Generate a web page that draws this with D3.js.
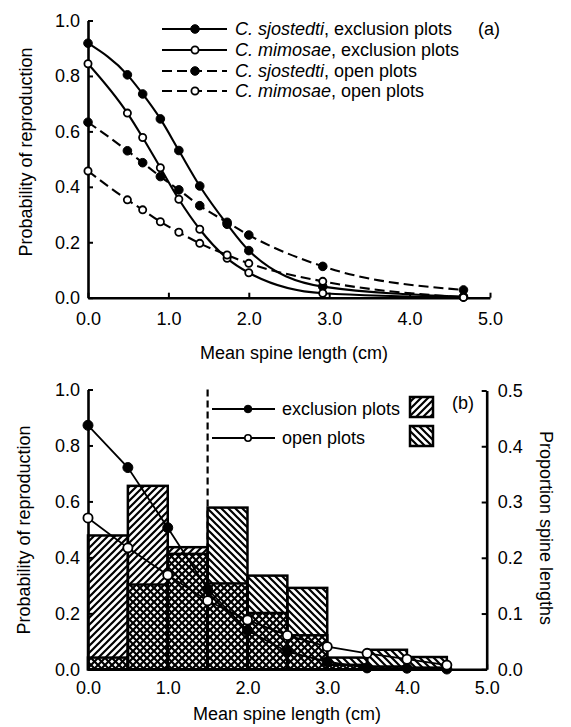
<!DOCTYPE html>
<html>
<head>
<meta charset="utf-8">
<script src="https://cdn.jsdelivr.net/npm/d3@7"></script>
<style>
  body { margin: 0; background: #fff; }
  svg { font-family: "Liberation Sans", Arial, Helvetica, sans-serif; }
  text { fill: #000; }
</style>
</head>
<body>
<svg id="chart" width="571" height="727"></svg>
<script>
// ---------- Panel (a) data ----------
const xA = [0, 0.49, 0.68, 0.90, 1.13, 1.39, 1.73, 2.00, 2.92, 4.67];
const sjostedtiExcl = [0.918, 0.804, 0.735, 0.645, 0.531, 0.403, 0.265, 0.170, 0.040, 0.004];
const mimosaeExcl   = [0.844, 0.666, 0.578, 0.469, 0.355, 0.247, 0.142, 0.090, 0.016, 0.001];
const sjostedtiOpen = [0.633, 0.530, 0.487, 0.437, 0.389, 0.332, 0.272, 0.226, 0.113, 0.028];
const mimosaeOpen   = [0.457, 0.353, 0.317, 0.274, 0.236, 0.196, 0.154, 0.124, 0.059, 0.001];
const seriesA = [
  { sp: "C. sjostedti", rest: ", exclusion plots", vals: sjostedtiExcl, dashed: false, filled: true },
  { sp: "C. mimosae",   rest: ", exclusion plots", vals: mimosaeExcl,   dashed: false, filled: false },
  { sp: "C. sjostedti", rest: ", open plots",      vals: sjostedtiOpen, dashed: true,  filled: true },
  { sp: "C. mimosae",   rest: ", open plots",      vals: mimosaeOpen,   dashed: true,  filled: false }
];

// ---------- Panel (b) data ----------
const binStarts = [0, 0.5, 1.0, 1.5, 2.0, 2.5, 3.0, 3.5, 4.0];
const binWidth = 0.5;
const exclProp = [0.240, 0.329, 0.219, 0.154, 0.101, 0.061, 0.008, 0.005, 0.003];
const openProp = [0.021, 0.152, 0.207, 0.290, 0.168, 0.146, 0.021, 0.035, 0.022];
const xB = [0, 0.5, 1.0, 1.5, 2.0, 2.5, 3.0, 3.5, 4.0, 4.5];
const exclProb = [0.872, 0.721, 0.506, 0.286, 0.139, 0.063, 0.027, 0.005, 0.004, 0.001];
const openProb = [0.541, 0.434, 0.337, 0.245, 0.176, 0.121, 0.081, 0.057, 0.036, 0.015];
const threshold = 1.5;

const ticksX = [0, 1, 2, 3, 4, 5];
const ticksP = [0, 0.2, 0.4, 0.6, 0.8, 1.0];
const ticksR = [0, 0.1, 0.2, 0.3, 0.4, 0.5];

const svg = d3.select("#chart");
const fmt = d3.format(".1f");
const FS = 18;

// hatch patterns
const defs = svg.append("defs");
function hatch(id, dir) {
  const s = 7;
  const p = defs.append("pattern").attr("id", id).attr("patternUnits", "userSpaceOnUse")
    .attr("width", s).attr("height", s);
  const d = dir > 0
    ? `M${-1},${1} l2,-2 M0,${s} l${s},${-s} M${s-1},${s+1} l2,-2`
    : `M${-1},${s-1} l2,2 M0,0 l${s},${s} M${s-1},${-1} l2,2`;
  p.append("path").attr("d", d).attr("stroke", "#000").attr("stroke-width", 2.2).attr("fill", "none");
}
hatch("hatchF", 1);   // "/"
hatch("hatchB", -1);  // "\"

function styleAxis(g) {
  g.selectAll(".domain").attr("stroke", "#000").attr("stroke-width", 2.6);
  g.selectAll(".tick line").attr("stroke", "#000").attr("stroke-width", 2);
  g.selectAll("text").attr("font-size", FS).attr("font-family", "Liberation Sans, Arial, sans-serif").attr("fill", "#000");
}

// ================= Panel (a) =================
const xa = d3.scaleLinear().domain([0, 5]).range([88, 490]);
const ya = d3.scaleLinear().domain([0, 1]).range([297.7, 20.5]);

const gA = svg.append("g");
gA.append("g").attr("transform", `translate(0,${ya(0)})`)
  .call(d3.axisBottom(xa).tickValues(ticksX).tickFormat(fmt).tickSizeInner(-5).tickSizeOuter(0).tickPadding(15))
  .call(styleAxis);
gA.append("g").attr("transform", `translate(${xa(0)},0)`)
  .call(d3.axisLeft(ya).tickValues(ticksP).tickFormat(fmt).tickSizeInner(-5).tickSizeOuter(0).tickPadding(8))
  .call(styleAxis);

const lineA = d3.line().x((d, i) => xa(xA[i])).y(d => ya(d)).curve(d3.curveMonotoneX);
seriesA.forEach(s => {
  gA.append("path").attr("d", lineA(s.vals)).attr("fill", "none").attr("stroke", "#000")
    .attr("stroke-width", 2.1).attr("stroke-dasharray", s.dashed ? "10,5" : null);
});
seriesA.forEach(s => {
  gA.selectAll(null).data(s.vals).enter().append("circle")
    .attr("cx", (d, i) => xa(xA[i])).attr("cy", d => ya(d))
    .attr("r", s.filled ? 4.3 : 3.6)
    .attr("fill", s.filled ? "#000" : "#fff").attr("stroke", "#000").attr("stroke-width", s.filled ? 1 : 1.8);
});

// legend (a)
const legA = gA.append("g");
const legRowsA = [29, 50, 71, 91];
seriesA.forEach((s, i) => {
  const y = legRowsA[i];
  legA.append("line").attr("x1", 162).attr("x2", 227).attr("y1", y).attr("y2", y)
    .attr("stroke", "#000").attr("stroke-width", 2.1).attr("stroke-dasharray", s.dashed ? "10,5" : null);
  legA.append("circle").attr("cx", 195).attr("cy", y).attr("r", s.filled ? 4.3 : 3.6)
    .attr("fill", s.filled ? "#000" : "#fff").attr("stroke", "#000").attr("stroke-width", s.filled ? 1 : 1.8);
  const t = legA.append("text").attr("x", 235).attr("y", y).attr("dy", "0.35em").attr("font-size", FS);
  t.append("tspan").attr("font-style", "italic").text(s.sp);
  t.append("tspan").text(s.rest);
});
gA.append("text").attr("x", 478).attr("y", 29).attr("dy", "0.35em").attr("font-size", FS).text("(a)");

gA.append("text").attr("x", 294).attr("y", 353).attr("dy", "0.35em").attr("text-anchor", "middle")
  .attr("font-size", FS).text("Mean spine length (cm)");
gA.append("text").attr("transform", `translate(26,152) rotate(-90)`).attr("dy", "0.35em")
  .attr("text-anchor", "middle").attr("font-size", FS).text("Probability of reproduction");

// ================= Panel (b) =================
const xb = d3.scaleLinear().domain([0, 5]).range([88, 486.7]);
const yb = d3.scaleLinear().domain([0, 1]).range([669.3, 389.5]);
const yr = d3.scaleLinear().domain([0, 0.5]).range([669.3, 390.5]);

const gB = svg.append("g");

// threshold dashed line
gB.append("line").attr("x1", xb(threshold)).attr("x2", xb(threshold)).attr("y1", yb(1)).attr("y2", yb(0))
  .attr("stroke", "#000").attr("stroke-width", 2.2).attr("stroke-dasharray", "7,4");

// bars: white fills, then hatches, then outlines
const bars = binStarts.map((b, i) => ({ x0: b, x1: b + binWidth, e: exclProp[i], o: openProp[i] }));
const gBars = gB.append("g");
bars.forEach(d => {
  const top = Math.max(d.e, d.o);
  gBars.append("rect").attr("x", xb(d.x0)).attr("width", xb(d.x1) - xb(d.x0))
    .attr("y", yr(top)).attr("height", yr(0) - yr(top)).attr("fill", "#fff");
});
gBars.selectAll(".be").data(bars).enter().append("rect")
  .attr("x", d => xb(d.x0)).attr("width", d => xb(d.x1) - xb(d.x0))
  .attr("y", d => yr(d.e)).attr("height", d => yr(0) - yr(d.e)).attr("fill", "url(#hatchF)");
gBars.selectAll(".bo").data(bars).enter().append("rect")
  .attr("x", d => xb(d.x0)).attr("width", d => xb(d.x1) - xb(d.x0))
  .attr("y", d => yr(d.o)).attr("height", d => yr(0) - yr(d.o)).attr("fill", "url(#hatchB)");
gBars.selectAll(".oe").data(bars).enter().append("rect")
  .attr("x", d => xb(d.x0)).attr("width", d => xb(d.x1) - xb(d.x0))
  .attr("y", d => yr(d.e)).attr("height", d => yr(0) - yr(d.e))
  .attr("fill", "none").attr("stroke", "#000").attr("stroke-width", 2.5);
gBars.selectAll(".oo").data(bars).enter().append("rect")
  .attr("x", d => xb(d.x0)).attr("width", d => xb(d.x1) - xb(d.x0))
  .attr("y", d => yr(d.o)).attr("height", d => yr(0) - yr(d.o))
  .attr("fill", "none").attr("stroke", "#000").attr("stroke-width", 2.5);

// axes (b)
gB.append("g").attr("transform", `translate(0,${yb(0)})`)
  .call(d3.axisBottom(xb).tickValues(ticksX).tickFormat(fmt).tickSizeInner(-5).tickSizeOuter(0).tickPadding(12))
  .call(styleAxis);
gB.append("g").attr("transform", `translate(${xb(0)},0)`)
  .call(d3.axisLeft(yb).tickValues(ticksP).tickFormat(fmt).tickSizeInner(-5).tickSizeOuter(0).tickPadding(8))
  .call(styleAxis);
gB.append("g").attr("transform", `translate(${xb(5)},0)`)
  .call(d3.axisRight(yr).tickValues(ticksR).tickFormat(fmt).tickSizeInner(-5).tickSizeOuter(0).tickPadding(11))
  .call(styleAxis);

// lines (b)
const lineB = d3.line().x((d, i) => xb(xB[i])).y(d => yb(d));
[[exclProb, true], [openProb, false]].forEach(([vals, filled]) => {
  gB.append("path").attr("d", lineB(vals)).attr("fill", "none").attr("stroke", "#000").attr("stroke-width", 1.8);
});
[[exclProb, true], [openProb, false]].forEach(([vals, filled]) => {
  gB.selectAll(null).data(vals).enter().append("circle")
    .attr("cx", (d, i) => xb(xB[i])).attr("cy", d => yb(d))
    .attr("r", filled ? 5 : 4.6)
    .attr("fill", filled ? "#000" : "#fff").attr("stroke", "#000").attr("stroke-width", filled ? 1 : 1.8);
});

// legend (b)
const legB = [
  { label: "exclusion plots", filled: true, pat: "url(#hatchF)", y: 409 },
  { label: "open plots", filled: false, pat: "url(#hatchB)", y: 438 }
];
legB.forEach(l => {
  gB.append("line").attr("x1", 212).attr("x2", 275).attr("y1", l.y).attr("y2", l.y)
    .attr("stroke", "#000").attr("stroke-width", 2);
  gB.append("circle").attr("cx", 248).attr("cy", l.y).attr("r", l.filled ? 3.8 : 3.2)
    .attr("fill", l.filled ? "#000" : "#fff").attr("stroke", "#000").attr("stroke-width", l.filled ? 1 : 1.6);
  gB.append("text").attr("x", 282).attr("y", l.y).attr("dy", "0.35em").attr("font-size", FS).text(l.label);
  gB.append("rect").attr("x", 410).attr("y", l.y - 12).attr("width", 23).attr("height", 20)
    .attr("fill", "#fff");
  gB.append("rect").attr("x", 410).attr("y", l.y - 12).attr("width", 23).attr("height", 20)
    .attr("fill", l.pat).attr("stroke", "#000").attr("stroke-width", 2.5);
});
gB.append("text").attr("x", 452).attr("y", 403).attr("dy", "0.35em").attr("font-size", FS).text("(b)");

gB.append("text").attr("x", 287).attr("y", 714).attr("dy", "0.35em").attr("text-anchor", "middle")
  .attr("font-size", FS).text("Mean spine length (cm)");
gB.append("text").attr("transform", `translate(24,530) rotate(-90)`).attr("dy", "0.35em")
  .attr("text-anchor", "middle").attr("font-size", FS).text("Probability of reproduction");
gB.append("text").attr("transform", `translate(546,528) rotate(90)`).attr("dy", "0.35em")
  .attr("text-anchor", "middle").attr("font-size", FS).text("Proportion spine lengths");
</script>
</body>
</html>
